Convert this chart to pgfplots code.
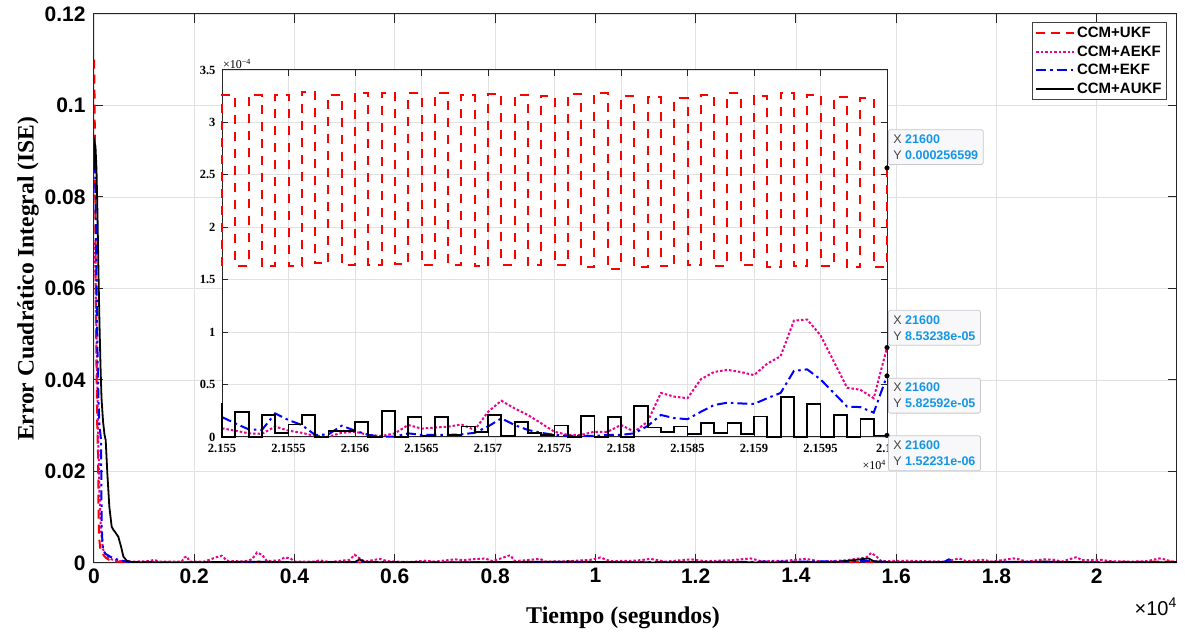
\documentclass[border=0pt]{standalone}
\usepackage{pgfplots}
\pgfplotsset{compat=1.18}
\usepackage{fontspec}
\setmainfont{Liberation Serif}
\newfontfamily\arial{Liberation Sans}
\definecolor{tipblue}{RGB}{20,150,230}
\definecolor{tipgray}{RGB}{70,70,70}
\definecolor{tipfill}{RGB}{248,248,250}
\definecolor{tipdraw}{RGB}{200,200,205}
\definecolor{gridc}{RGB}{225,225,225}
\definecolor{axc}{RGB}{38,38,38}
\tikzset{tip/.style={draw=tipdraw, fill=tipfill, rounded corners=2pt, line width=0.8pt,
  font={\arial\fontsize{12.5}{16}\selectfont}, align=left, inner xsep=5pt, inner ysep=5pt}}
\newcommand{\tip}[2]{{\color{tipgray}X} {\color{tipblue}\bfseries #1}\\{\color{tipgray}Y} {\color{tipblue}\bfseries #2}}
% inset x values are seconds after t = 21550 s
\begin{document}
\begin{tikzpicture}
\useasboundingbox (-94pt,-73pt) rectangle (1091pt,563pt);
\begin{axis}[
  at={(0pt,0pt)}, anchor=south west, scale only axis, width=1083pt, height=549pt,
  xmin=0, xmax=21600, ymin=0, ymax=0.12,
  scaled ticks=false,
  xtick={0,2000,4000,6000,8000,10000,12000,14000,16000,18000,20000},
  xticklabels={0,0.2,0.4,0.6,0.8,1,1.2,1.4,1.6,1.8,2},
  ytick={0,0.02,0.04,0.06,0.08,0.1,0.12},
  yticklabels={0,0.02,0.04,0.06,0.08,0.1,0.12},
  grid=major, grid style={gridc, line width=0.7pt},
  axis line style={axc, line width=1pt},
  tick align=inside, tick pos=both, major tick length=9pt,
  tick style={axc, line width=1pt},
  ticklabel style={font={\arial\bfseries\fontsize{21}{24}\selectfont}, text=black},
  xticklabel style={yshift=-2pt}, yticklabel style={xshift=-5pt},
  legend style={at={(rel axis cs:0.9908,0.9854)}, anchor=north east,
    font={\arial\bfseries\fontsize{15}{17}\selectfont}, draw=black!75, line width=0.8pt,
    inner xsep=3pt, inner ysep=3pt, row sep=2.5pt, cells={anchor=west}},
  legend image code/.code={\draw[#1] (0pt,0pt) -- (38pt,0pt);},
]
\addplot[red, line width=2pt, dash pattern=on 9pt off 6pt] coordinates {
(0,0.110)(8,0.105)(16,0.095)(25,0.080)(35,0.062)(45,0.048)(55,0.038)(65,0.030)(80,0.024)(90,0.012)(100,0.006)(120,0.0035)(150,0.0024)(200,0.0016)(240,0.0011)(300,0.0007)(400,0.0004)(600,0.0002)(1000,0.0001)(3000,0.0002)(6000,0.0001)(9000,0.0002)(12000,0.0001)(15000,0.0002)(18000,0.0001)(21600,0.0003)};
\addlegendentry{CCM+UKF}
\addplot[magenta, line width=2pt, dash pattern=on 2.5pt off 2pt] coordinates {
(0,0.07)(20,0.068)(50,0.05)(80,0.03)(110,0.015)(140,0.007)(180,0.003)(250,0.0015)(350,0.0008)(500,0.0004)(800,0.0003)(1100,0.0004)(1200,0.0007)(1300,0.0003)(1750,0.0003)(1800,0.0012)(1860,0.0014)(1900,0.0003)(2200,0.0003)(2300,0.0007)(2450,0.0013)(2550,0.0016)(2650,0.0005)(3000,0.0003)(3150,0.0008)(3250,0.0023)(3350,0.0018)(3450,0.0004)(3700,0.0006)(3800,0.0012)(3920,0.0010)(4000,0.0003)(4400,0.0003)(4500,0.0006)(4700,0.0002)(5100,0.0007)(5200,0.0018)(5300,0.0010)(5400,0.0003)(5700,0.0009)(5850,0.0004)(6300,0.0002)(6600,0.0005)(6800,0.0003)(7200,0.0008)(7350,0.0006)(7650,0.0009)(7800,0.0010)(7950,0.0004)(8300,0.0017)(8400,0.0004)(8900,0.0009)(9000,0.0003)(9500,0.0004)(9900,0.0007)(10100,0.0012)(10300,0.0004)(10800,0.0005)(11100,0.0009)(11400,0.0003)(11900,0.0008)(12200,0.0004)(12700,0.0006)(13100,0.0010)(13300,0.0004)(13800,0.0005)(14200,0.0009)(14500,0.0003)(15000,0.0006)(15400,0.0012)(15500,0.0022)(15600,0.0015)(15700,0.0004)(16200,0.0005)(16500,0.0004)(17000,0.0003)(17250,0.0010)(17400,0.0004)(17750,0.0007)(17900,0.0003)(18350,0.0010)(18450,0.0008)(18600,0.0003)(18950,0.0008)(19150,0.0007)(19300,0.0003)(19600,0.0013)(19700,0.0006)(20100,0.0007)(20250,0.0004)(20700,0.0003)(21000,0.0004)(21250,0.0010)(21350,0.0008)(21500,0.0003)(21600,0.0003)};
\addlegendentry{CCM+AEKF}
\addplot[blue, line width=2pt, dash pattern=on 10pt off 4pt on 2.5pt off 4pt] coordinates {
(0,0.090)(10,0.091)(25,0.085)(40,0.070)(55,0.058)(70,0.046)(90,0.035)(110,0.030)(140,0.0269)(153,0.0083)(170,0.004)(186,0.0028)(230,0.002)(320,0.0014)(420,0.0009)(552,0.0005)(700,0.0002)(1500,0.0001)(3000,0.0001)(5300,0.0002)(9000,0.0001)(12000,0.0002)(15500,0.0004)(16000,0.0001)(16950,0.0002)(17050,0.0008)(17150,0.0002)(19000,0.0001)(21600,0.0001)};
\addlegendentry{CCM+EKF}
\addplot[black, line width=1.8pt] coordinates {
(0,0.086)(10,0.092)(30,0.091)(50,0.086)(70,0.076)(90,0.063)(110,0.052)(130,0.043)(150,0.036)(180,0.031)(210,0.028)(233,0.0269)(266,0.0196)(306,0.0123)(353,0.0079)(390,0.0072)(419,0.0068)(486,0.0057)(539,0.0036)(586,0.0014)(652,0.0005)(750,0.0002)(1500,0.0001)(2500,0.0002)(3300,0.0003)(4000,0.0001)(5200,0.0002)(5300,0.0008)(5400,0.0002)(7000,0.0001)(8000,0.0002)(9500,0.0003)(11000,0.0001)(12000,0.0002)(13500,0.0001)(14800,0.0002)(15450,0.0010)(15550,0.0004)(16000,0.0001)(17000,0.0002)(19000,0.0003)(20000,0.0001)(21600,0.0002)};
\addlegendentry{CCM+AUKF}
\end{axis}

\begin{axis}[
  name=inset,
  at={(128pt,126pt)}, anchor=south west, scale only axis, width=665pt, height=367pt,
  xmin=0, xmax=50, ymin=0, ymax=3.5, clip=false,
  axis background/.style={fill=white},
  scaled ticks=false,
  xtick={0,5,10,15,20,25,30,35,40,45,50},
  xticklabels={2.155,2.1555,2.156,2.1565,2.157,2.1575,2.158,2.1585,2.159,2.1595,2.16},
  ytick={0,0.5,1,1.5,2,2.5,3,3.5},
  yticklabels={0,0.5,1,1.5,2,2.5,3,3.5},
  grid=major, grid style={gridc, line width=0.7pt},
  axis line style={axc, line width=1pt},
  tick align=inside, tick pos=both, major tick length=6pt,
  tick style={axc, line width=1pt},
  ticklabel style={font={\bfseries\fontsize{12.5}{14}\selectfont}, text=black},
  yticklabel style={xshift=-3pt}, xticklabel style={yshift=-4pt},
]
\addplot[red, line width=2pt, dash pattern=on 9pt off 8pt] coordinates {
(0,1.63)(0,3.26)(1,3.26)(1,1.635)(2,1.635)(2,3.26)(3,3.26)(3,1.63)(4,1.63)(4,3.265)(5,3.265)(5,1.63)(6,1.63)(6,3.29)(7,3.29)(7,1.655)(8,1.655)(8,3.265)(9,3.265)(9,1.64)(10,1.64)(10,3.28)(11,3.28)(11,1.645)(12,1.645)(12,3.28)(13,3.28)(13,1.65)(14,1.65)(14,3.28)(15,3.28)(15,1.64)(16,1.64)(16,3.28)(17,3.28)(17,1.645)(18,1.645)(18,3.26)(19,3.26)(19,1.63)(20,1.63)(20,3.27)(21,3.27)(21,1.645)(22,1.645)(22,3.265)(23,3.265)(23,1.645)(24,1.645)(24,3.25)(25,3.25)(25,1.64)(26,1.64)(26,3.27)(27,3.27)(27,1.62)(28,1.62)(28,3.28)(29,3.28)(29,1.60)(30,1.60)(30,3.25)(31,3.25)(31,1.62)(32,1.62)(32,3.24)(33,3.24)(33,1.63)(34,1.63)(34,3.23)(35,3.23)(35,1.64)(36,1.64)(36,3.26)(37,3.26)(37,1.63)(38,1.63)(38,3.28)(39,3.28)(39,1.64)(40,1.64)(40,3.25)(41,3.25)(41,1.62)(42,1.62)(42,3.28)(43,3.28)(43,1.63)(44,1.63)(44,3.26)(45,3.26)(45,1.63)(46,1.63)(46,3.24)(47,3.24)(47,1.62)(48,1.62)(48,3.23)(49,3.23)(49,1.62)(50,1.62)(50,2.566)};
\addplot[magenta, line width=2pt, dash pattern=on 2.5pt off 2pt] coordinates {
(0,0.083)(1,0.06)(2,0.035)(3,0.03)(4,0.10)(5,0.06)(6,0.04)(7,0.01)(8,0.003)(9,0.04)(10,0.05)(11,0.02)(12,0.01)(13,0.035)(14,0.115)(15,0.08)(16,0.09)(17,0.098)(18,0.12)(19,0.067)(20,0.24)(21,0.346)(22,0.273)(23,0.21)(24,0.13)(25,0.05)(26,0.02)(27,0.02)(28,0.05)(29,0.05)(30,0.115)(31,0.05)(32,0.146)(33,0.42)(34,0.385)(35,0.37)(36,0.55)(37,0.62)(38,0.64)(39,0.62)(40,0.59)(41,0.70)(42,0.77)(43,1.11)(44,1.12)(45,0.97)(46,0.72)(47,0.47)(48,0.45)(49,0.37)(50,0.853)};
\addplot[blue, line width=2pt, dash pattern=on 10pt off 4pt on 2.5pt off 4pt] coordinates {
(0,0.19)(1,0.13)(2,0.073)(3,0.067)(4,0.225)(5,0.162)(6,0.114)(7,0.02)(8,0.025)(9,0.108)(10,0.06)(11,0.02)(12,0.003)(13,0.003)(14,0.035)(15,0.02)(16,0.02)(17,0.02)(18,0.025)(19,0.04)(20,0.10)(21,0.178)(22,0.114)(23,0.067)(24,0.04)(25,0.02)(26,0.01)(27,0.01)(28,0.01)(29,0.02)(30,0.02)(31,0.035)(32,0.105)(33,0.21)(34,0.18)(35,0.17)(36,0.24)(37,0.305)(38,0.327)(39,0.32)(40,0.315)(41,0.37)(42,0.42)(43,0.63)(44,0.645)(45,0.55)(46,0.42)(47,0.29)(48,0.285)(49,0.232)(50,0.583)};
\addplot[black, line width=1.8pt, const plot] coordinates {
(0,0.32)(0,0)(1,0.235)(2,0)(3,0.21)(4,0.04)(5,0.12)(6,0.21)(7,0)(8,0.06)(9,0.06)(10,0.145)(11,0)(12,0.25)(13,0)(14,0.19)(15,0.01)(16,0.19)(17,0.02)(18,0.10)(19,0.045)(20,0.21)(21,0.01)(22,0.145)(23,0.04)(24,0.02)(25,0.11)(26,0)(27,0.20)(28,0)(29,0.19)(30,0)(31,0.295)(32,0.09)(33,0.05)(34,0.10)(35,0.03)(36,0.135)(37,0.035)(38,0.135)(39,0.025)(40,0.195)(41,0)(42,0.38)(43,0)(44,0.315)(45,0)(46,0.21)(47,0)(48,0.17)(49,0.015)(50,0.015)};
\addplot[only marks, mark=*, mark size=2.3pt, black] coordinates {(50,2.566)(50,0.853)(50,0.583)(50,0.0152)};
\coordinate (t1) at (axis cs:50,2.566);
\coordinate (t2) at (axis cs:50,0.853);
\coordinate (t3) at (axis cs:50,0.583);
\coordinate (t4) at (axis cs:50,0.0152);
\end{axis}

\node[anchor=south west, inner sep=0pt, font={\fontsize{12}{14}\selectfont}] at ([xshift=1pt,yshift=1pt]inset.north west) {×10\textsuperscript{−4}};
\node[anchor=north east, inner sep=0pt, font={\fontsize{12}{14}\selectfont}] at ([xshift=-1pt,yshift=-23pt]inset.south east) {×10\textsuperscript{4}};
\node[tip, anchor=south west] at ([xshift=1pt,yshift=3pt]t1) {\tip{21600}{0.000256599}};
\node[tip, anchor=south west] at ([xshift=1pt,yshift=2pt]t2) {\tip{21600}{8.53238e-05}};
\node[tip, anchor=north west] at ([xshift=1pt,yshift=-2pt]t3) {\tip{21600}{5.82592e-05}};
\node[tip, anchor=north west] at ([xshift=1pt]t4) {\tip{21600}{1.52231e-06}};

\node[font={\bfseries\fontsize{24}{28}\selectfont}] at (529pt,-55pt) {Tiempo (segundos)};
\node[rotate=90, font={\bfseries\fontsize{23.5}{28}\selectfont}] at (-66pt,284pt) {Error Cuadrático Integral (ISE)};
\node[anchor=north east, inner sep=0pt, font={\arial\fontsize{20}{22}\selectfont}] at (1083pt,-35pt) {×10\textsuperscript{4}};
\end{tikzpicture}
\end{document}
